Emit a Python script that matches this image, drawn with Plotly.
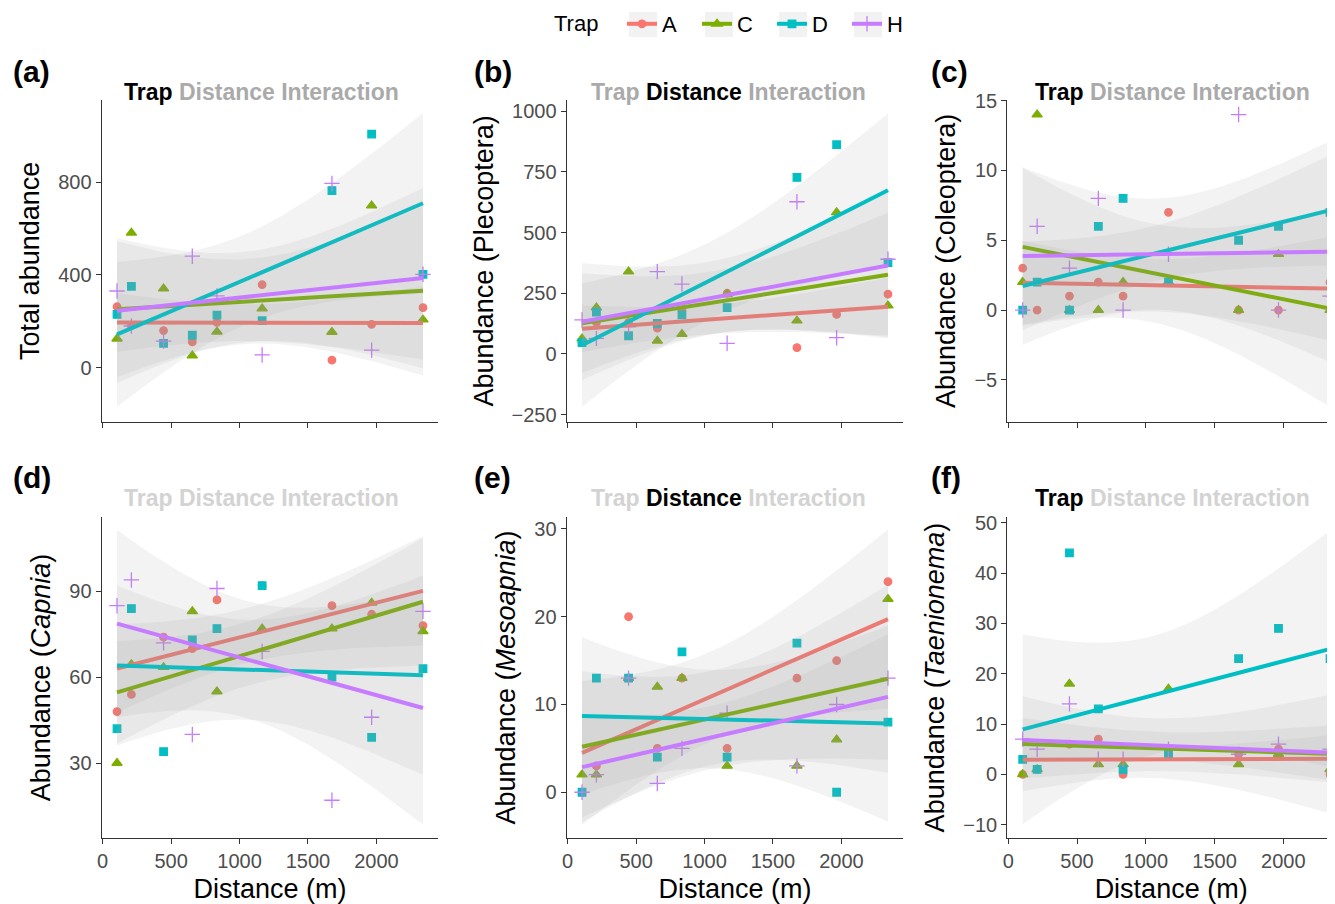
import numpy as np
import plotly.graph_objects as go

OFF = 8                      # page body margin of the html page
W, H = 1335 - OFF, 904 - OFF  # figure size so it ends at the window edge
TOP = 70  # top margin (pixels) that holds the legend

# ---------------- data ----------------
traps = ["A", "C", "D", "H"]
distance = [105, 210, 445, 655, 835, 1165, 1675, 1965, 2340]

total_A = [263, 181, 160, 111, 196, 358, 33, 187, 259]
total_C = [125, 582, 341, 52, 155, 255, 154, 699, 207]
total_D = [230, 351, 105, 140, 227, 203, 764, 1008, 403]
total_H = [331, 180, 115, 481, 310, 55, 795, 76, 403]

pleco_A = [47, 130, 130, 106, 181, 250, 26, 163, 246]
pleco_C = [63, 191, 339, 54, 82, 246, 137, 583, 199]
pleco_D = [47, 172, 75, 126, 161, 191, 727, 862, 376]
pleco_H = [140, 64, 112, 339, 288, 44, 627, 67, 390]

coleo_A = [3, 0, 1, 2, 1, 7, 0, 0, 2]
coleo_C = [2, 14, 0, 0, 2, 2, 0, 4, 0]
coleo_D = [0, 2, 0, 6, 8, 2, 5, 6, 7]
coleo_H = [0, 6, 3, 8, 0, 4, 14, 0, 1]

capnia_A = [48, 54, 74, 70, 87, 92, 85, 82, 78]
capnia_C = [30, 64.5, 63.5, 83, 55, 77, 77, 86, 76]
capnia_D = [42, 84, 34, 73, 77, 92, 60, 39, 63]
capnia_H = [85, 94, 72, 40, 91, 69, 17, 46, 83]

meso_A = [0, 3, 20, 5, 13, 5, 13, 15, 24]
meso_C = [2, 2, 13, 12, 13, 3, 3, 6, 22]
meso_D = [0, 13, 13, 4, 16, 4, 17, 0, 8]
meso_H = [0, 2, 13, 1, 5, 9, 3, 10, 13]

taen_A = [0, 1, 6, 7, 0, 4, 4, 5, 0]
taen_C = [0, 1, 18, 2, 2, 17, 2, 4, 1]
taen_D = [3, 1, 44, 13, 1, 4, 23, 29, 23]
taen_H = [7, 5, 14, 3, 3, 5, 4, 6, 5]

panel_labels = ["(a)", "(b)", "(c)", "(d)", "(e)", "(f)"]
y_titles = ["Total abundance", "Abundance (Plecoptera)", "Abundance (Coleoptera)",
            "Abundance (<i>Capnia</i>)", "Abundance (<i>Mesoapnia</i>)",
            "Abundance (<i>Taenionema</i>)"]
x_title = "Distance (m)"
legend_title = "Trap"
title_words = ["Trap", "Distance", "Interaction"]
# which words are significant (black) per panel
significant = [[True, False, False], [False, True, False], [True, False, False],
               [False, False, False], [False, True, False], [True, False, False]]

panels = [
    [total_A, total_C, total_D, total_H],
    [pleco_A, pleco_C, pleco_D, pleco_H],
    [coleo_A, coleo_C, coleo_D, coleo_H],
    [capnia_A, capnia_C, capnia_D, capnia_H],
    [meso_A, meso_C, meso_D, meso_H],
    [taen_A, taen_C, taen_D, taen_H],
]

# ---------------- style ----------------
FONT = "Liberation Sans, Arial, sans-serif"
colors = {"A": "#F8766D", "C": "#7CAE00", "D": "#00BFC4", "H": "#C77CFF"}
symbols = {"A": "circle", "C": "triangle-up", "D": "square", "H": "cross-thin"}
msize = {"A": 7.5, "C": 9, "D": 7.5, "H": 11}
T_CRIT = 2.364624  # t(0.975, df=7)

# panel geometry in (window) pixels
col_x = [(101.7, 438.3), (566.7, 903.3), (1007.3, 1335.0)]
row_y = [(100.0, 421.7), (516.7, 838.3)]
x_ranges = [[-7, 2452], [-7, 2452], [-7, 2376]]
y_ranges = [[-233, 1155], [-279, 1046], [-8.0, 15.05],
            [3.7, 116.1], [-5.25, 31.4], [-12.7, 51.2]]
y_dticks = [400, 250, 5, 30, 10, 10]
title_cx = [261, 728, 1172]
title_cy = [92, 498]
label_cx = [11, 472, 929]
label_cy = [71, 477]
legend_keys_px = [(629, 657), (705, 733), (779, 807), (854, 882)]


def px2x(px):
    return (px - OFF) / W


def py2y(py):
    return (H - (py - OFF)) / (H - TOP)


fig = go.Figure()
layout = {}


def lm_fit(x, y):
    x = np.asarray(x, float)
    y = np.asarray(y, float)
    n = len(x)
    xb, yb = x.mean(), y.mean()
    sxx = ((x - xb) ** 2).sum()
    b = ((x - xb) * (y - yb)).sum() / sxx
    a = yb - b * xb
    resid = y - (a + b * x)
    s = np.sqrt((resid ** 2).sum() / (n - 2))
    xs = np.linspace(x.min(), x.max(), 80)
    fit = a + b * xs
    se = s * np.sqrt(1.0 / n + (xs - xb) ** 2 / sxx)
    return xs, fit, fit - T_CRIT * se, fit + T_CRIT * se


for i, series in enumerate(panels):
    r, c = divmod(i, 3)
    ax = "" if i == 0 else str(i + 1)
    xa, ya = "x" + ax, "y" + ax
    # points
    for t, vals in zip(traps, series):
        fig.add_trace(go.Scatter(
            x=distance, y=vals, mode="markers", xaxis=xa, yaxis=ya, showlegend=False,
            marker=dict(symbol=symbols[t], size=msize[t], color=colors[t],
                        line=dict(width=1.3, color=colors[t])),
            hoverinfo="skip"))
    # smooths: ribbon then line per group
    for t, vals in zip(traps, series):
        xs, fit, lo, hi = lm_fit(distance, vals)
        fig.add_trace(go.Scatter(
            x=np.concatenate([xs, xs[::-1]]), y=np.concatenate([hi, lo[::-1]]),
            mode="lines", fill="toself", fillcolor="rgba(153,153,153,0.12)",
            line=dict(width=0), xaxis=xa, yaxis=ya, showlegend=False, hoverinfo="skip"))
        fig.add_trace(go.Scatter(
            x=xs, y=fit, mode="lines", line=dict(color=colors[t], width=4),
            xaxis=xa, yaxis=ya, showlegend=False, hoverinfo="skip"))

    x0, x1 = col_x[c]
    y0, y1 = row_y[r]
    axis_common = dict(showgrid=False, zeroline=False, showline=True, linecolor="#333333",
                       linewidth=1.2, ticks="outside", ticklen=5, tickwidth=1.2,
                       tickcolor="#333333", automargin=False,
                       tickfont=dict(family=FONT, size=20, color="#4d4d4d"))
    xaxis = dict(axis_common, domain=[px2x(x0), min(1.0, px2x(x1))], range=x_ranges[c],
                 tick0=0, dtick=500, anchor=ya, showticklabels=(r == 1))
    if r == 1:
        xaxis["title"] = dict(text=x_title, standoff=10,
                              font=dict(family=FONT, size=27, color="#000000"))
    yaxis = dict(axis_common, domain=[py2y(y1), py2y(y0)], range=y_ranges[i],
                 tick0=0, dtick=y_dticks[i], anchor=xa,
                 title=dict(text=y_titles[i], standoff=10,
                            font=dict(family=FONT, size=27, color="#000000")))
    layout["xaxis" + ax] = xaxis
    layout["yaxis" + ax] = yaxis

annotations = []
for i in range(6):
    r, c = divmod(i, 3)
    gray = "#aaaaaa" if r == 0 else "#d3d3d3"
    parts = []
    for w, sig in zip(title_words, significant[i]):
        parts.append("<span style='color:%s'>%s</span>" % ("#000000" if sig else gray, w))
    annotations.append(dict(text="<b>" + " ".join(parts) + "</b>", xref="paper", yref="paper",
                            x=px2x(title_cx[c]), y=py2y(title_cy[r]), xanchor="center",
                            yanchor="middle", showarrow=False,
                            font=dict(family=FONT, size=23)))
    annotations.append(dict(text="<b>%s</b>" % panel_labels[i], xref="paper", yref="paper",
                            x=px2x(label_cx[c]), y=py2y(label_cy[r]), xanchor="left",
                            yanchor="middle", showarrow=False,
                            font=dict(family=FONT, size=30, color="#000000")))

# legend title as text
annotations.append(dict(text=legend_title, xref="paper", yref="paper", x=px2x(552),
                        y=py2y(23), xanchor="left", yanchor="middle", showarrow=False,
                        font=dict(family=FONT, size=22, color="#000000")))

# grey legend key backgrounds (ggplot style)
shapes = [dict(type="rect", xref="paper", yref="paper", x0=px2x(k0), x1=px2x(k1),
               y0=py2y(37), y1=py2y(12), fillcolor="#f2f2f2", line=dict(width=0),
               layer="below") for k0, k1 in legend_keys_px]

# legend entries
for t in traps:
    fig.add_trace(go.Scatter(
        x=[None], y=[None], mode="lines+markers", name=t,
        line=dict(color=colors[t], width=4),
        marker=dict(symbol=symbols[t], size=msize[t], color=colors[t],
                    line=dict(width=1.3, color=colors[t]))))

fig.update_layout(
    width=W, height=H, autosize=False,
    margin=dict(l=0, r=0, t=TOP, b=0, autoexpand=False),
    paper_bgcolor="white", plot_bgcolor="white",
    annotations=annotations, shapes=shapes,
    legend=dict(orientation="h", x=px2x(622), xanchor="left", y=py2y(24), yanchor="middle",
                font=dict(family=FONT, size=22, color="#000000"),
                entrywidth=30, entrywidthmode="pixels", itemwidth=30,
                bgcolor="rgba(0,0,0,0)"),
    font=dict(family=FONT),
    **layout,
)

fig.write_html("out.html")
